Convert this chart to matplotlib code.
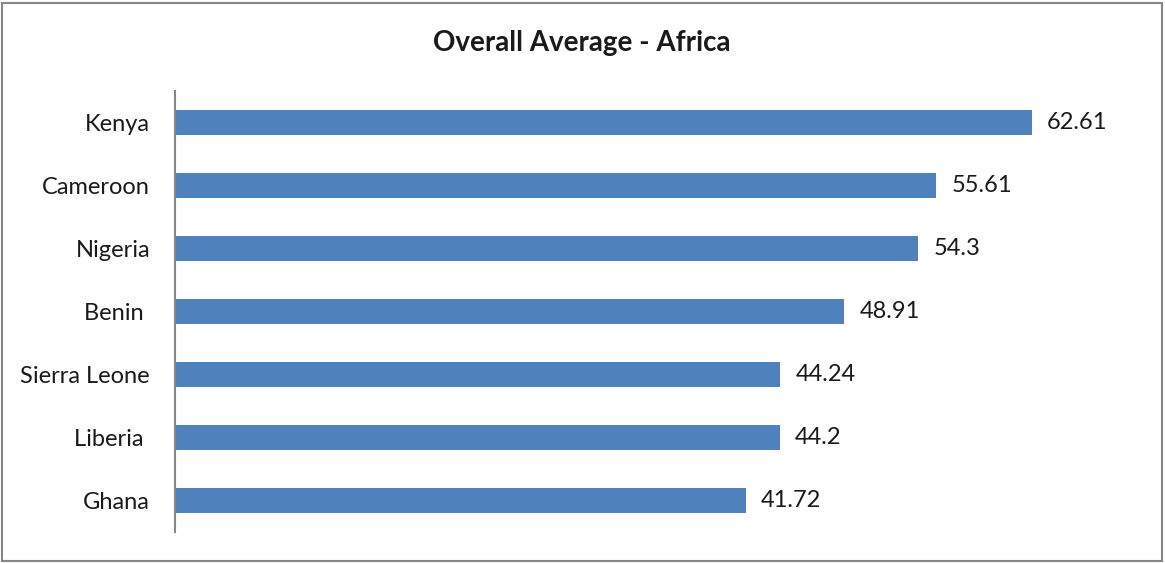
import matplotlib
matplotlib.use("Agg")
import matplotlib.pyplot as plt
from matplotlib.patches import Rectangle

countries = ["Kenya", "Cameroon", "Nigeria", "Benin ", "Sierra Leone", "Liberia ", "Ghana"]
values = [62.61, 55.61, 54.3, 48.91, 44.24, 44.2, 41.72]
value_labels = ["62.61", "55.61", "54.3", "48.91", "44.24", "44.2", "41.72"]
title = "Overall Average - Africa"

plt.rcParams['font.family'] = ['Lato', 'DejaVu Sans']

fig = plt.figure(figsize=(11.65, 5.63), dpi=100)
ax = fig.add_axes([175/1165, 1-532/563, 958/1165, 441/563])

y = list(range(len(countries)))
ax.barh(y, values, height=0.4, color="#4F81BD")
ax.set_ylim(len(countries)-0.5, -0.5)
ax.set_xlim(0, 70)
ax.set_yticks(y)
ax.set_yticklabels(countries, fontsize=17, color="#1a1a1a")
ax.tick_params(axis='y', length=0, pad=18)
ax.set_xticks([])
for s in ["top", "right", "bottom"]:
    ax.spines[s].set_visible(False)
ax.spines["left"].set_color("#868686")
ax.spines["left"].set_linewidth(1.5)

for yi, v, lab in zip(y, values, value_labels):
    ax.annotate(lab, (v, yi), xytext=(11, 0), textcoords="offset points",
                va="center", ha="left", fontsize=17, color="#1a1a1a")

fig.text(582/1165, 1-43/563, title, ha="center", va="center",
         fontsize=20, fontweight="bold", color="#1a1a1a")

fig.patches.append(Rectangle((2/1165, 2/563), 1160/1165, 558/563, transform=fig.transFigure,
                             fill=False, edgecolor="#868686", linewidth=1.5))

fig.savefig("out.png", dpi=100)
